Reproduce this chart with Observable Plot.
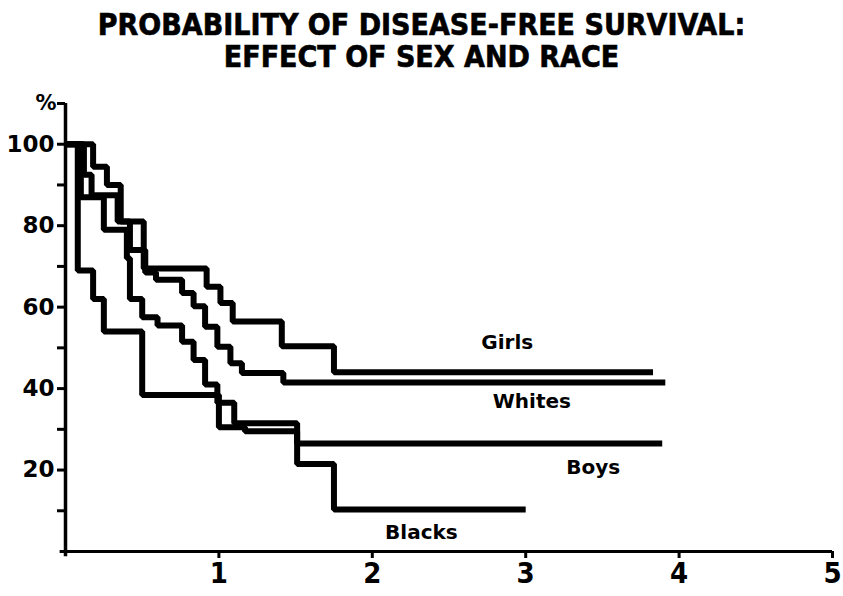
<!DOCTYPE html>
<html>
<head>
<meta charset="utf-8">
<script src="https://cdn.jsdelivr.net/npm/d3@7"></script>
<script src="https://cdn.jsdelivr.net/npm/@observablehq/plot@0.6"></script>
<style>
  body { margin: 0; background: #fff; }
  #title { height: 80px; width: 843px; box-sizing: border-box; padding-top: 9px; text-align: center;
           font-family: "Liberation Sans Narrow", "DejaVu Sans Condensed", sans-serif; font-weight: bold;
           font-size: 30px; line-height: 32px; color: #000; }
  #title span { display: inline-block; transform: scaleX(1.0); transform-origin: center; white-space: nowrap;
                -webkit-text-stroke: 0.6px #000; }
</style>
</head>
<body>
<div id="title"><span>PROBABILITY OF DISEASE-FREE SURVIVAL:</span><br><span>EFFECT OF SEX AND RACE</span></div>
<div id="chart"></div>
<script>
// Kaplan–Meier step curves (time in years, % disease-free)
const girlsT  = [0, 0.18, 0.27, 0.36, 0.51, 0.92, 1.01, 1.09, 1.41, 1.75, 3.83];
const girlsS  = [100, 94.5, 90, 81, 69.5, 65, 61, 56.5, 50.4, 44, 44];

const whitesT = [0, 0.12, 0.17, 0.34, 0.42, 0.52, 0.59, 0.76, 0.835, 0.91, 0.99, 1.075, 1.15, 1.42, 3.91];
const whitesS = [100, 92.5, 87.5, 81, 74, 68.5, 66.7, 63.5, 60.2, 55.2, 50.3, 46.2, 43.8, 41.5, 41.5];

const boysT   = [0, 0.1, 0.25, 0.4, 0.42, 0.5, 0.6, 0.76, 0.835, 0.91, 0.99, 1.1, 1.51, 3.89];
const boysS   = [100, 87, 79, 72, 62, 57.5, 55.5, 51.5, 47, 41, 36.5, 31.5, 26.5, 26.5];

const blacksT = [0, 0.08, 0.18, 0.25, 0.5, 1.0, 1.17, 1.51, 1.75, 3.0];
const blacksS = [100, 69, 62, 54, 38.4, 30.5, 29.5, 21.5, 10.3, 10.3];

const seriesNames = ["Girls", "Whites", "Boys", "Blacks"];
const labelT = [2.88, 3.04, 3.44, 2.32];
const labelS = [51.2, 36.7, 20.7, 4.7];

const yTicks = [10, 20, 30, 40, 50, 60, 70, 80, 90, 100, 110];
const yLabels = [20, 40, 60, 80, 100];
const xTicks = [1, 2, 3, 4, 5];

const curves = [[girlsT, girlsS], [whitesT, whitesS], [boysT, boysS], [blacksT, blacksS]];
const data = curves.flatMap(([T, S], i) => T.map((t, j) => ({t, s: S[j], group: seriesNames[i]})));
const labels = seriesNames.map((name, i) => ({name, t: labelT[i], s: labelS[i]}));

const chart = Plot.plot({
  width: 843,
  height: 516,
  marginTop: 23,
  marginBottom: 45,
  marginLeft: 65,
  marginRight: 11,
  x: {domain: [0, 5]},
  y: {domain: [0, 110]},
  style: {background: "#fff", color: "#000"},
  marks: [
    Plot.axisY({ticks: yTicks, tickSize: 8, tickPadding: 3, strokeWidth: 3,
      tickFormat: d => yLabels.includes(d) ? String(d) : "", label: null,
      fontFamily: "DejaVu Sans", fontWeight: "bold", fontSize: 23}),
    Plot.axisX({ticks: xTicks, tickSize: 7, tickPadding: 4, strokeWidth: 3,
      tickFormat: d => String(d), label: null,
      fontFamily: "Liberation Sans Narrow, DejaVu Sans Condensed, sans-serif", fontWeight: "bold", fontSize: 29}),
    Plot.ruleX([0], {y1: -1.3, y2: 110, strokeWidth: 3.5}),
    Plot.ruleY([0], {x1: -0.035, x2: 5, strokeWidth: 3}),
    Plot.line(data, {x: "t", y: "s", z: "group", curve: "step-after", stroke: "#000",
      strokeWidth: 6, strokeLinejoin: "miter", strokeLinecap: "butt"}),
    Plot.text(labels, {x: "t", y: "s", text: "name", fontFamily: "DejaVu Sans", fontWeight: "bold", fontSize: 20, fill: "#000"}),
    Plot.text(["%"], {frameAnchor: "top-left", dx: -30, dy: -8, text: d => d, fontFamily: "DejaVu Sans", fontWeight: "bold", fontSize: 21, fill: "#000"})
  ]
});
document.getElementById("chart").appendChild(chart);
</script>
</body>
</html>
